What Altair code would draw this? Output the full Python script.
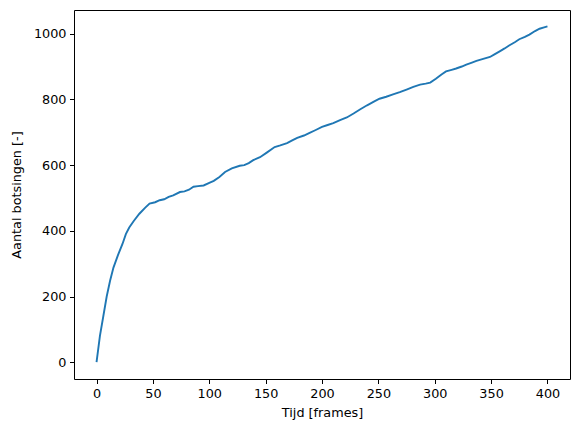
import altair as alt
import pandas as pd

frames = [0, 3, 6, 9, 12, 15, 19, 23, 26, 29, 33, 38, 43, 47, 52, 56, 60, 64, 68, 74,
          78, 82, 86, 90, 95, 100, 104, 109, 114, 120, 127, 131, 135, 139, 145, 151,
          158, 163, 169, 174, 178, 184, 189, 194, 200, 205, 210, 216, 222, 228, 234,
          240, 246, 251, 257, 263, 269, 275, 281, 287, 292, 296, 301, 306, 310, 315,
          319, 324, 328, 333, 337, 343, 349, 353, 358, 362, 366, 371, 375, 380, 384,
          389, 393, 397, 400]
botsingen = [0, 80, 140, 200, 248, 288, 326, 360, 390, 410, 430, 452, 470, 483, 487,
             493, 496, 503, 508, 518, 520, 525, 534, 536, 538, 546, 552, 564, 579, 590,
             598, 600, 606, 615, 624, 638, 655, 660, 667, 676, 683, 690, 698, 706, 716,
             722, 728, 737, 745, 757, 770, 782, 793, 802, 808, 815, 822, 830, 838, 845,
             848, 851, 863, 876, 885, 890, 894, 900, 906, 912, 917, 923, 929, 937, 947,
             955, 964, 974, 983, 990, 997, 1008, 1015, 1019, 1022]

x_ticks = [0, 50, 100, 150, 200, 250, 300, 350, 400]
y_ticks = [0, 200, 400, 600, 800, 1000]

df = pd.DataFrame({"frame": frames, "botsingen": botsingen})

FONT = "DejaVu Sans"
FS = 12.8

chart = alt.Chart(df).mark_line(color="#1f77b4", strokeWidth=1.9, clip=True).encode(
    x=alt.X("frame:Q",
            scale=alt.Scale(domain=[-20, 420], nice=False, zero=False),
            axis=alt.Axis(title="Tijd [frames]", values=x_ticks, grid=False, format="d",
                          domain=False, tickSize=4.5, tickColor="black",
                          tickWidth=1, labelPadding=3.5, titlePadding=7,
                          labelFlush=False)),
    y=alt.Y("botsingen:Q",
            scale=alt.Scale(domain=[-51, 1072], nice=False, zero=False),
            axis=alt.Axis(title="Aantal botsingen [-]", values=y_ticks, grid=False, format="d",
                          domain=False, tickSize=4.5, tickColor="black",
                          tickWidth=1, labelPadding=3.5, titleX=-58,
                          titleBaseline="middle", labelFlush=False)),
).properties(
    width=496,
    height=369,
    background="white",
    autosize=alt.AutoSizeParams(type="none"),
    padding={"left": 66, "top": 2, "right": 2, "bottom": 45},
).configure_view(
    stroke="black", strokeWidth=1
).configure_axis(
    labelFont=FONT, titleFont=FONT, labelFontSize=FS, titleFontSize=FS,
    labelColor="black", titleColor="black", titleFontWeight="normal"
)

chart.save("out.html", embed_options={"renderer": "svg", "actions": False})
